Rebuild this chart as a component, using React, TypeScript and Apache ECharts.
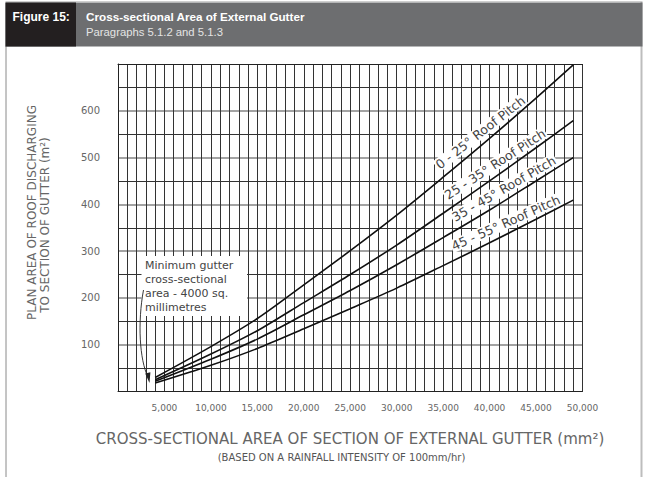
import React, { useEffect, useRef } from 'react';
import * as echarts from 'echarts';

// Cross-sectional area of gutter (mm²) at which the curves were read
const gutterArea = [4000, 10000, 15000, 20000, 25000, 30000, 35000, 40000, 45000, 49000];
// Plan area of roof discharging to section of gutter (m²)
const pitch0to25 = [30, 96, 156, 228, 301, 377, 458, 541, 627, 698];
const pitch25to35 = [25, 80, 130, 190, 250, 313, 381, 450, 521, 579];
const pitch35to45 = [22, 69, 112, 164, 216, 271, 329, 388, 450, 500];
const pitch45to55 = [18, 56, 92, 134, 177, 221, 269, 318, 368, 409];
const curveNames = ['0 - 25° Roof Pitch', '25 - 35° Roof Pitch', '35 - 45° Roof Pitch', '45 - 55° Roof Pitch'];
const curveValues = [pitch0to25, pitch25to35, pitch35to45, pitch45to55];

// Where each curve label sits (gutter area along the curve) and its slant
const labelAt = [39700, 41200, 42100, 42200];
const labelAngle = [38, 33, 30, 24];

const xTitle = 'CROSS-SECTIONAL AREA OF SECTION OF EXTERNAL GUTTER (mm²)';
const xSubTitle = '(BASED ON A RAINFALL INTENSITY OF 100mm/hr)';
const yTitle1 = 'PLAN AREA OF ROOF DISCHARGING';
const yTitle2 = 'TO SECTION OF GUTTER (m²)';
const noteText = 'Minimum gutter\ncross-sectional\narea - 4000 sq.\nmillimetres';

const FAM = 'DejaVu Sans';
const HFAM = 'Liberation Sans';

function interp(xs: number[], ys: number[], x: number) {
  for (let i = 0; i < xs.length - 1; i++) {
    if (x >= xs[i] && x <= xs[i + 1]) {
      const t = (x - xs[i]) / (xs[i + 1] - xs[i]);
      return ys[i] + t * (ys[i + 1] - ys[i]);
    }
  }
  return ys[ys.length - 1];
}

export default function App() {
  const ref = useRef<HTMLDivElement>(null);

  useEffect(() => {
    if (!ref.current) return;
    const chart = echarts.init(ref.current, null, { renderer: 'svg' });

    const staticGraphics: any[] = [
      // frame
      { type: 'line', z: 5, shape: { x1: 5.5, y1: 1.5, x2: 642.5, y2: 1.5 }, style: { stroke: '#cfcfcf', lineWidth: 1 } },
      { type: 'line', z: 5, shape: { x1: 6, y1: 46, x2: 6, y2: 477 }, style: { stroke: '#8a8a8a', lineWidth: 1 } },
      { type: 'line', z: 5, shape: { x1: 641.5, y1: 2, x2: 641.5, y2: 477 }, style: { stroke: '#bdbdbd', lineWidth: 2 } },
      // header
      { type: 'rect', z: 5, shape: { x: 5.5, y: 2.5, width: 637, height: 44 }, style: { fill: '#6d6e70' } },
      { type: 'rect', z: 6, shape: { x: 5.5, y: 2.5, width: 70.5, height: 44 }, style: { fill: '#231f20' } },
      { type: 'text', z: 7, x: 12.5, y: 16.5, style: { text: 'Figure 15:', fill: '#ffffff', fontFamily: HFAM, fontWeight: 'bold', fontSize: 12, textVerticalAlign: 'middle' } },
      { type: 'text', z: 7, x: 86, y: 16.5, style: { text: 'Cross-sectional Area of External Gutter', fill: '#ffffff', fontFamily: HFAM, fontWeight: 'bold', fontSize: 11.7, textVerticalAlign: 'middle' } },
      { type: 'text', z: 7, x: 86, y: 31.5, style: { text: 'Paragraphs 5.1.2 and 5.1.3', fill: '#e4e4e4', fontFamily: HFAM, fontSize: 11.3, textVerticalAlign: 'middle' } },
      // axis titles
      { type: 'text', z: 5, x: 31.7, y: 212.5, rotation: Math.PI / 2, style: { text: yTitle1, fill: '#666', fontFamily: FAM, fontSize: 12, textAlign: 'center', textVerticalAlign: 'middle' } },
      { type: 'text', z: 5, x: 45, y: 225, rotation: Math.PI / 2, style: { text: yTitle2, fill: '#666', fontFamily: FAM, fontSize: 12, textAlign: 'center', textVerticalAlign: 'middle' } },
      { type: 'text', z: 5, x: 350, y: 439, style: { text: xTitle, fill: '#666', fontFamily: FAM, fontSize: 15, textAlign: 'center', textVerticalAlign: 'middle' } },
      { type: 'text', z: 5, x: 341.5, y: 457, style: { text: xSubTitle, fill: '#555', fontFamily: FAM, fontSize: 10, textAlign: 'center', textVerticalAlign: 'middle' } },
      // minimum gutter note
      { type: 'rect', z: 1, shape: { x: 141.5, y: 256, width: 105.5, height: 60 }, style: { fill: '#ffffff' } },
      { type: 'text', z: 3, x: 145, y: 258, style: { text: noteText, fill: '#444', fontFamily: FAM, fontSize: 11, lineHeight: 14, textVerticalAlign: 'top' } },
      { type: 'bezierCurve', z: 3, shape: { x1: 143.5, y1: 290, cpx1: 137.5, cpy1: 322, cpx2: 139.5, cpy2: 360, x2: 148, y2: 377 }, style: { stroke: '#222', lineWidth: 0.9, fill: 'none' } },
      { type: 'polygon', z: 3, shape: { points: [[149.5, 383], [145.2, 373.5], [150.4, 372.2]] }, style: { fill: '#222' } },
    ];

    const option: any = {
      animation: false,
      backgroundColor: '#ffffff',
      grid: { left: 118, top: 64, width: 464.5, height: 327.5, containLabel: false },
      xAxis: [
        {
          type: 'value', min: 0, max: 50000, interval: 5000,
          axisLine: { show: true, lineStyle: { color: '#222', width: 1 } },
          axisTick: { show: false },
          axisLabel: {
            margin: 12, color: '#666', fontFamily: FAM, fontSize: 9,
            formatter: (v: number) => (v === 0 ? '' : v.toLocaleString('en-US')),
          },
          splitLine: { show: true, showMinLine: false, lineStyle: { color: '#333', width: 1 } },
          minorTick: { show: false, splitNumber: 5 },
          minorSplitLine: { show: true, lineStyle: { color: '#333', width: 1 } },
        },
        {
          type: 'value', min: 0, max: 50000, position: 'top',
          axisLine: { show: true, onZero: false, lineStyle: { color: '#222', width: 1 } },
          axisTick: { show: false }, axisLabel: { show: false }, splitLine: { show: false },
        },
      ],
      yAxis: {
        type: 'value', min: 0, max: 700, interval: 100,
        axisLine: { show: true, lineStyle: { color: '#222', width: 1 } },
        axisTick: { show: false },
        axisLabel: {
          margin: 18, color: '#666', fontFamily: FAM, fontSize: 10,
          formatter: (v: number) => (v === 0 || v === 700 ? '' : String(v)),
        },
        splitLine: { show: true, showMinLine: false, showMaxLine: false, lineStyle: { color: '#a3a3a3', width: 2 } },
        minorTick: { show: false, splitNumber: 2 },
        minorSplitLine: { show: true, lineStyle: { color: '#333', width: 1 } },
      },
      series: curveValues.map((vals, i) => ({
        name: curveNames[i],
        type: 'line',
        xAxisIndex: 0,
        showSymbol: false,
        smooth: 0.3,
        z: 2,
        lineStyle: { color: '#111', width: 1.6 },
        data: gutterArea.map((x, j) => [x, vals[j]]),
      })),
      graphic: staticGraphics,
    };

    chart.setOption(option);

    const labelGraphics = curveNames.map((name, i) => {
      const xVal = labelAt[i];
      const yVal = interp(gutterArea, curveValues[i], xVal);
      const p = chart.convertToPixel({ gridIndex: 0 }, [xVal, yVal]) as number[];
      const th = (labelAngle[i] * Math.PI) / 180;
      const d = 10.5;
      return {
        type: 'text', z: 1,
        x: p[0] - d * Math.sin(th),
        y: p[1] - d * Math.cos(th),
        rotation: th,
        style: {
          text: name, fill: '#444', fontFamily: FAM, fontSize: 12.6,
          textAlign: 'center', textVerticalAlign: 'middle',
          backgroundColor: '#ffffff', padding: [0, 1],
        },
      };
    });

    chart.setOption({ graphic: [...staticGraphics, ...labelGraphics] });

    return () => chart.dispose();
  }, []);

  return (
    <div
      ref={ref}
      style={{ position: 'fixed', left: 0, top: 0, width: 646, height: 477, background: '#fff' }}
    />
  );
}
